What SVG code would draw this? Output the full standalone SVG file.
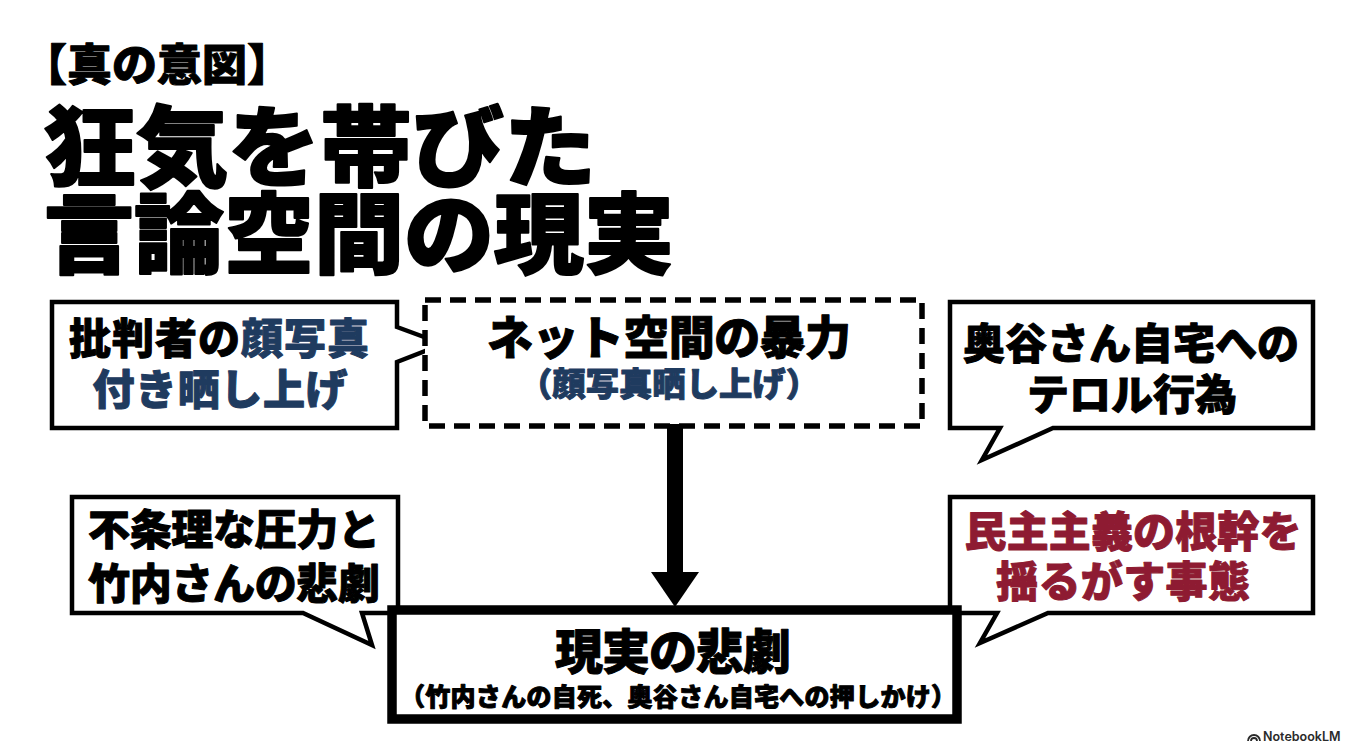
<svg xmlns="http://www.w3.org/2000/svg" width="1350" height="753" viewBox="0 0 1350 753">
  <style>
    text { font-family: "Noto Sans CJK JP", "Noto Sans", sans-serif; font-weight: 900; fill: #000; stroke: #000; stroke-width: 1; stroke-linejoin: round; }
    .c { text-anchor: middle; }
    .blue { fill: #1f3b5f; stroke: #1f3b5f; }
    .red { fill: #8e1b32; stroke: #8e1b32; }
    .big { stroke-width: 2; }
    .bubble { fill: #fff; stroke: #000; stroke-width: 4.5; stroke-linejoin: miter; }
    .dash { fill: #fff; stroke: #000; stroke-width: 5.5; stroke-dasharray: 16 9; }
    .main { fill: #fff; stroke: #000; stroke-width: 9.5; }
    .wm { font-family: "Inter", "Roboto", sans-serif; font-weight: 600; font-size: 12.5px; fill: #2a2a2a; stroke: none; }
  </style>
  <rect width="1350" height="753" fill="#fff"/>

  <g id="title">
    <text x="22" y="81" font-size="44" textLength="270" lengthAdjust="spacingAndGlyphs">【真の意図】</text>
    <text class="big" x="44" y="179" font-size="88" textLength="552" lengthAdjust="spacingAndGlyphs">狂気を帯びた</text>
    <text class="big" x="44" y="266" font-size="88" textLength="630" lengthAdjust="spacingAndGlyphs">言論空間の現実</text>
  </g>

  <g id="callout-photo">
    <path class="bubble" d="M52,302 H397 V327 L443,344 L397,362 V428 H52 Z"/>
    <text class="c" x="219" y="354" font-size="42" textLength="300">批判者の<tspan class="blue">顔写真</tspan></text>
    <text class="c blue" x="220" y="405" font-size="42" textLength="255">付き晒し上げ</text>
  </g>

  <g id="callout-terror">
    <path class="bubble" d="M950,302 H1313 V428 H1053 L982,460 L1000,428 H950 Z"/>
    <text class="c" x="1131" y="359" font-size="42" textLength="336">奥谷さん自宅への</text>
    <text class="c" x="1132" y="410" font-size="42" textLength="210">テロル行為</text>
  </g>

  <g id="callout-pressure">
    <path class="bubble" d="M72,497 H398 V613 H362 L372,645 L303,613 H72 Z"/>
    <text class="c" x="234" y="545" font-size="42" textLength="292">不条理な圧力と</text>
    <text class="c" x="234" y="599" font-size="42" textLength="292">竹内さんの悲劇</text>
  </g>

  <g id="callout-democracy">
    <path class="bubble" d="M950,497 H1313 V613 H1048 L980,643 L997,613 H950 Z"/>
    <text class="c red" x="1133" y="547" font-size="42" textLength="337">民主主義の根幹を</text>
    <text class="c red" x="1123" y="597" font-size="42" textLength="254">揺るがす事態</text>
  </g>

  <g id="node-net-violence">
    <rect class="dash" x="425" y="300" width="497" height="126"/>
    <text class="c" x="669" y="354" font-size="46" textLength="364">ネット空間の暴力</text>
    <text class="c blue" x="669" y="396" font-size="33" textLength="300" lengthAdjust="spacingAndGlyphs">（顔写真晒し上げ）</text>
  </g>

  <g id="connectors">
    <line x1="675" y1="424" x2="675" y2="575" stroke="#000" stroke-width="16"/>
    <polygon points="651,572 699,572 675,607" fill="#000"/>
  </g>

  <g id="node-tragedy">
    <rect class="main" x="392" y="610" width="565" height="109"/>
    <text class="c" x="673" y="669" font-size="48" textLength="236">現実の悲劇</text>
    <text class="c" x="678" y="706" font-size="25" textLength="556">（竹内さんの自死、奥谷さん自宅への押しかけ）</text>
  </g>

  <g id="watermark">
    <path d="M1248,741 a6,6 0 0 1 12,0 M1251,741 a3,3 0 0 1 6,0" fill="none" stroke="#2a2a2a" stroke-width="1.8"/>
    <text class="wm" x="1263" y="741">NotebookLM</text>
  </g>
</svg>
